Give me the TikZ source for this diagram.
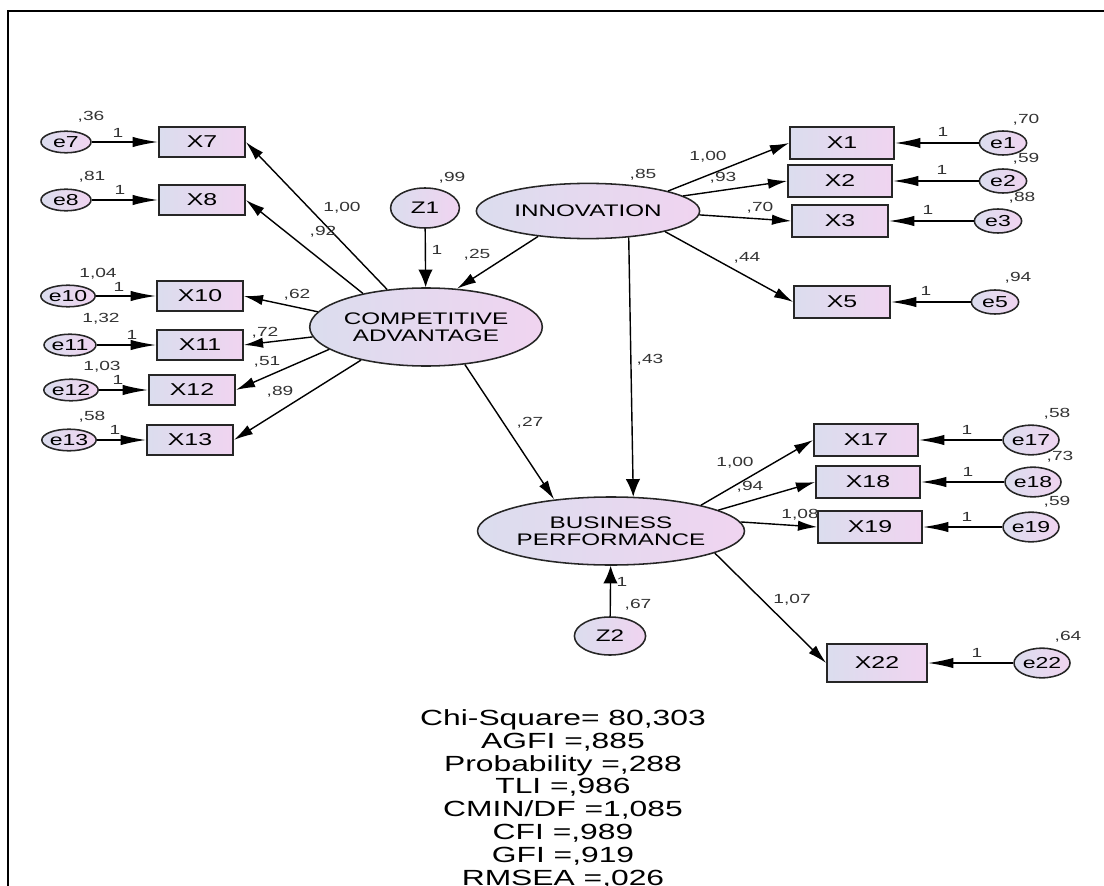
\documentclass[tikz,border=0pt]{standalone}
\usepackage{fontspec}
\setmainfont{Liberation Sans}[FakeStretch=1.45]
\usetikzlibrary{shapes.geometric,arrows.meta}
\definecolor{fillleft}{RGB}{219,221,238}
\definecolor{fillright}{RGB}{240,212,240}

\begin{document}
\begin{tikzpicture}[
    x=0.025cm, y=-0.025cm,
    obs/.style={draw=black!85, line width=1.2pt, left color=fillleft, right color=fillright,
        minimum width=2.6cm, minimum height=0.8cm, inner sep=0pt, font=\fontsize{12.2}{12.8}\selectfont},
    obsl/.style={obs, minimum width=2.15cm, minimum height=0.75cm},
    lat/.style={ellipse, draw=black!85, line width=1.1pt, left color=fillleft, right color=fillright,
        inner sep=0pt, align=center, font=\fontsize{11.9}{12.3}\selectfont},
    err/.style={lat, font=\fontsize{11.3}{12}\selectfont},
    errl/.style={err, minimum width=1.25cm, minimum height=0.54cm},
    errr/.style={err, minimum width=1.18cm, minimum height=0.6cm},
    errb/.style={err, minimum width=1.4cm, minimum height=0.74cm},
    num/.style={font=\fontsize{9.4}{10}\selectfont, text=black!80, inner sep=0pt},
    arr/.style={-{Latex[length=4.8mm,width=2.6mm]}, line width=1pt},
    harr/.style={-{Latex[length=6.4mm,width=2.6mm]}, line width=1pt},
    varr/.style={-{Latex[length=4.4mm,width=3.6mm]}, line width=1pt},
]
    \useasboundingbox (0,0) rectangle (1104,886);
    % frame
    \draw[line width=1.4pt] (8,900) -- (8,11) -- (1120,11);

    % latent variables
    \node[lat, minimum width=5.58cm, minimum height=1.38cm] (INN) at (588,211) {INNOVATION};
    \node[lat, minimum width=5.7cm, minimum height=1.95cm] (CA) at (426,327) {COMPETITIVE\\ADVANTAGE};
    \node[lat, minimum width=6.6cm, minimum height=1.7cm] (BP) at (611,531) {BUSINESS\\PERFORMANCE};
    \node[lat, minimum width=1.72cm, minimum height=1.0cm] (Z1) at (425,208) {Z1};
    \node[lat, minimum width=1.78cm, minimum height=0.95cm] (Z2) at (610,636) {Z2};

    % competitive advantage indicators
    \node[obsl] (X7) at (202,142) {X7};
    \node[obsl] (X8) at (202,200) {X8};
    \node[obsl] (X10) at (200,296) {X10};
    \node[obsl] (X11) at (200,345) {X11};
    \node[obsl] (X12) at (192,390) {X12};
    \node[obsl] (X13) at (190,440) {X13};
    \node[errl] (e7) at (66,142) {e7};
    \node[errl] (e8) at (66,200) {e8};
    \node[errl] (e10) at (68,296) {e10};
    \node[errl] (e11) at (70,345) {e11};
    \node[errl] (e12) at (71,390) {e12};
    \node[errl] (e13) at (69,440) {e13};

    % innovation indicators
    \node[obs] (X1) at (842,143) {X1};
    \node[obs] (X2) at (840,181) {X2};
    \node[obs, minimum width=2.4cm] (X3) at (840,221) {X3};
    \node[obs, minimum width=2.4cm] (X5) at (842,302) {X5};
    \node[errr] (e1) at (1003,143) {e1};
    \node[errr] (e2) at (1003,181) {e2};
    \node[errr] (e3) at (998,221) {e3};
    \node[errr] (e5) at (995,302) {e5};

    % business performance indicators
    \node[obs] (X17) at (866,440) {X17};
    \node[obs] (X18) at (868,482) {X18};
    \node[obs] (X19) at (870,527) {X19};
    \node[obs, minimum width=2.5cm, minimum height=0.95cm] (X22) at (877,663) {X22};
    \node[errb] (e17) at (1031,440) {e17};
    \node[errb] (e18) at (1033,482) {e18};
    \node[errb] (e19) at (1031,527) {e19};
    \node[errb] (e22) at (1042,663) {e22};

    % error terms
    \foreach \e/\x in {e7/X7, e8/X8, e10/X10, e11/X11, e12/X12, e13/X13,
        e1/X1, e2/X2, e3/X3, e5/X5, e17/X17, e18/X18, e19/X19, e22/X22}
        \draw[harr] (\e) -- (\x);

    % loadings
    \foreach \a/\x in {136/X7, 152/X8, 172/X10, 185/X11, 193/X12, 207/X13}
        \draw[arr] (CA.\a) -- (\x.east);
    \foreach \a/\x in {14/X1, 9/X2, -2/X3, -15/X5}
        \draw[arr] (INN.\a) -- (\x.west);
    \foreach \a/\x in {16/X17, 11/X18, 4/X19, -12/X22}
        \draw[arr] (BP.\a) -- (\x.west);

    % structural paths
    \draw[arr] (INN.207) -- (CA.51);
    \draw[arr] (CA.-44) -- (BP.151);
    \draw[varr] (INN.-33) -- (BP.57);
    \draw[varr] (Z1) -- (CA);
    \draw[varr] (Z2) -- (BP);

    % estimates
    \foreach \px/\py/\t [count=\i] in {
        91/117/{,36}, 118/133/1, 92/177/{,81}, 120/190/1,
        98/274/{1,04}, 119/287/1, 101/319/{1,32}, 132/335/1,
        102/367/{1,03}, 118/380/1, 92/417/{,58}, 115/430/1,
        342/208/{1,00}, 323/232/{,92}, 297/295/{,62}, 265/333/{,72}, 267/362/{,51}, 280/392/{,89},
        452/178/{,99}, 437/250/1, 643/175/{,85}, 477/255/{,25}, 650/360/{,43}, 530/423/{,27},
        708/157/{1,00}, 723/178/{,93}, 760/208/{,70}, 747/258/{,44},
        1026/120/{,70}, 1026/159/{,59}, 1022/198/{,88}, 1018/278/{,94},
        943/132/1, 942/170/1, 928/210/1, 926/291/1,
        735/463/{1,00}, 750/487/{,94}, 800/515/{1,08}, 792/600/{1,07},
        1057/414/{,58}, 1060/457/{,73}, 1057/502/{,59}, 1068/637/{,64},
        967/430/1, 968/472/1, 967/517/1, 977/653/1,
        622/582/1, 638/605/{,67}}
        \node[num] (est\i) at (\px,\py) {\t};

    % fit indices
    \node[font=\fontsize{15.6}{16.3}\selectfont, align=center, anchor=north, inner sep=0pt] (fit) at (563,709)
        {Chi-Square= 80,303\\AGFI =,885\\Probability =,288\\TLI =,986\\CMIN/DF =1,085\\CFI =,989\\GFI =,919\\RMSEA =,026};
\end{tikzpicture}
\end{document}
